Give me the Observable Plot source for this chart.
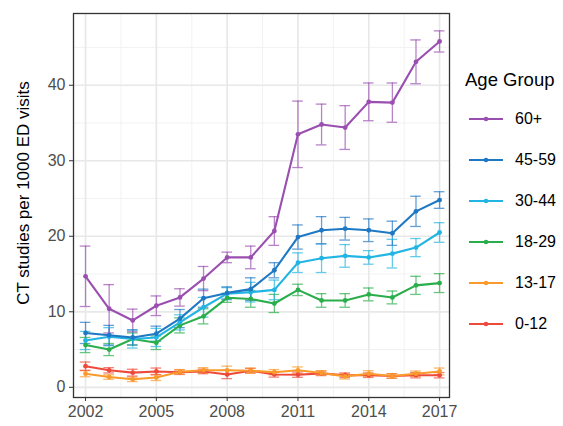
<!DOCTYPE html>
<html>
<head>
<meta charset="utf-8">
<script src="https://cdn.jsdelivr.net/npm/d3@7"></script>
<script src="https://cdn.jsdelivr.net/npm/@observablehq/plot@0.6"></script>
<style>
  body { margin: 0; background: #fff; font-family: "Liberation Sans", Arial, Helvetica, sans-serif; }
  #wrap { position: relative; width: 563px; height: 426px; overflow: hidden; }
  #chart { position: absolute; left: 0; top: 0; }
  #legend { position: absolute; left: 465px; top: 67px; color: #000; }
  #legend .title { font-size: 18.5px; line-height: 26px; height: 26px; margin-bottom: 5px; }
  #legend .item { display: flex; align-items: center; height: 41px; }
  #legend .item svg { margin-right: 12px; margin-left: 4px; }
  #legend .item span { font-size: 16px; }
  #ytitle { position: absolute; left: 24px; top: 193px; transform: translate(-50%, -50%) rotate(-90deg); font-size: 17px; white-space: nowrap; color: #000; }
</style>
</head>
<body>
<div id="wrap">
  <div id="chart"></div>
  <div id="ytitle">CT studies per 1000 ED visits</div>
  <div id="legend"></div>
</div>
<script>
const years = [2002,2003,2004,2005,2006,2007,2008,2009,2010,2011,2012,2013,2014,2015,2016,2017];
const groups = ["60+","45-59","30-44","18-29","13-17","0-12"];
const colors = ["#9a4fb0","#1f78c4","#22b5e3","#2aae4b","#f99a2a","#ee4a3c"];

const rate60  = [14.7,10.4,8.85,10.8,11.9,14.4,17.2,17.2,20.7,33.5,34.8,34.4,37.8,37.7,43.1,45.8];
const err60   = [4.0,3.2,1.5,1.3,1.15,1.6,0.7,1.5,1.9,4.4,2.7,2.9,2.5,2.6,2.9,1.4];
const rate45  = [7.2,6.9,6.6,7.1,9.1,11.8,12.5,13.0,15.5,19.9,20.8,21.0,20.8,20.4,23.3,24.8];
const err45   = [1.4,1.3,1.0,1.0,1.2,1.2,0.8,1.5,1.0,1.6,1.8,1.5,1.5,1.6,2.0,1.1];
const rate30  = [6.2,6.7,6.4,6.6,8.6,10.6,12.4,12.6,12.9,16.5,17.1,17.4,17.2,17.7,18.5,20.5];
const err30   = [1.2,1.2,1.2,1.2,1.0,1.3,0.8,1.3,1.3,1.3,1.9,1.5,0.9,1.9,1.2,1.3];
const rate18  = [5.6,5.0,6.4,5.9,8.2,9.4,11.85,11.7,11.1,12.9,11.5,11.5,12.3,11.9,13.5,13.8];
const err18   = [1.0,0.8,0.8,0.9,1.0,1.0,0.6,1.1,1.2,0.75,0.9,0.9,0.85,0.85,1.2,1.25];
const rate13  = [1.8,1.36,1.06,1.3,2.05,2.25,2.25,2.2,2.0,2.25,1.9,1.45,1.8,1.5,1.8,2.1];
const err13   = [0.4,0.3,0.3,0.4,0.3,0.35,0.55,0.35,0.35,0.45,0.3,0.35,0.4,0.3,0.35,0.45];
const rate0   = [2.8,2.25,1.94,2.1,2.0,2.1,1.7,2.2,1.7,1.67,1.85,1.6,1.6,1.5,1.6,1.6];
const err0    = [0.55,0.35,0.45,0.45,0.3,0.3,0.55,0.3,0.35,0.35,0.3,0.3,0.3,0.3,0.35,0.35];

const xTicks = [2002,2005,2008,2011,2014,2017];
const xMinor = [2003.5,2006.5,2009.5,2012.5,2015.5];
const yTicks = [0,10,20,30,40];
const yMinor = [5,15,25,35,45];

const rates = [rate60, rate45, rate30, rate18, rate13, rate0];
const errs  = [err60, err45, err30, err18, err13, err0];

// draw youngest first so 60+ ends on top
const rows = [];
for (let i = groups.length - 1; i >= 0; i--) {
  years.forEach((yr, j) => {
    rows.push({group: groups[i], year: yr, v: rates[i][j], lo: rates[i][j] - errs[i][j], hi: rates[i][j] + errs[i][j]});
  });
}

const capHalf = 0.225;
const chart = Plot.plot({
  width: 563,
  height: 426,
  marginLeft: 73,
  marginRight: 114,
  marginTop: 13,
  marginBottom: 29,
  style: {fontFamily: '"Liberation Sans", Arial, Helvetica, sans-serif', background: "#fff"},
  x: {domain: [2001.49, 2017.42]},
  y: {domain: [-1.35, 49.5]},
  color: {domain: groups, range: colors},
  marks: [
    Plot.ruleX(xMinor, {stroke: "#f0f0f0", strokeWidth: 0.9}),
    Plot.ruleY(yMinor, {stroke: "#f0f0f0", strokeWidth: 0.9}),
    Plot.ruleX(xTicks, {stroke: "#e8e8e8", strokeWidth: 1.7}),
    Plot.ruleY(yTicks, {stroke: "#e8e8e8", strokeWidth: 1.7}),
    Plot.ruleX(rows, {x: "year", y1: "lo", y2: "hi", stroke: "group", strokeOpacity: 0.7, strokeWidth: 1.3}),
    Plot.ruleY(rows, {y: "hi", x1: d => d.year - capHalf, x2: d => d.year + capHalf, stroke: "group", strokeOpacity: 0.7, strokeWidth: 1.3}),
    Plot.ruleY(rows, {y: "lo", x1: d => d.year - capHalf, x2: d => d.year + capHalf, stroke: "group", strokeOpacity: 0.7, strokeWidth: 1.3}),
    Plot.line(rows, {x: "year", y: "v", z: "group", stroke: "group", strokeWidth: 2.1}),
    Plot.dot(rows, {x: "year", y: "v", fill: "group", r: 2.4}),
    Plot.frame({stroke: "#333", strokeWidth: 1.3}),
    Plot.axisX({ticks: xTicks, tickFormat: d => String(d), tickSize: 4, tickPadding: 4, fontSize: 16, stroke: "#333", fill: "#4d4d4d", label: null}),
    Plot.axisY({ticks: yTicks, tickSize: 4, tickPadding: 4, fontSize: 16, stroke: "#333", fill: "#4d4d4d", label: null})
  ]
});
document.getElementById("chart").appendChild(chart);

// legend
const leg = document.getElementById("legend");
const t = document.createElement("div");
t.className = "title";
t.textContent = "Age Group";
leg.appendChild(t);
groups.forEach((g, i) => {
  const item = document.createElement("div");
  item.className = "item";
  const s = d3.create("svg").attr("width", 34).attr("height", 10);
  s.append("line").attr("x1", 0).attr("x2", 34).attr("y1", 5).attr("y2", 5).attr("stroke", colors[i]).attr("stroke-width", 2);
  s.append("circle").attr("cx", 17).attr("cy", 5).attr("r", 2.3).attr("fill", colors[i]);
  item.appendChild(s.node());
  const sp = document.createElement("span");
  sp.textContent = g;
  item.appendChild(sp);
  leg.appendChild(item);
});
</script>
</body>
</html>
